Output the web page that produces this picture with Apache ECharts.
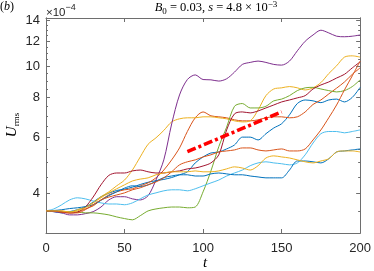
<!DOCTYPE html>
<html><head><meta charset="utf-8">
<script src="https://cdn.jsdelivr.net/npm/echarts@6/dist/echarts.min.js"></script>
<style>html,body{margin:0;padding:0;background:#fff}#c{width:374px;height:271px}</style>
</head><body><div id="c"></div>
<script>
// time samples
const t = [0,5,10,15,20,25,30,35,40,45,50,55,60,65,70,75,80,85,90,95,100,105,110,115,120,125,130,135,140,145,150,155,160,165,170,175,180,185,190,195,200];
// U_rms in units of 1e-4
const blueA   = [3.52,3.50,3.47,3.50,3.55,3.62,3.75,3.90,4.00,4.08,4.12,4.18,4.26,4.33,4.38,4.42,4.48,4.57,4.67,4.98,5.20,5.35,5.39,5.51,5.67,6.00,6.00,5.88,6.15,6.41,6.61,7.05,7.65,7.85,7.80,7.70,7.85,7.90,7.74,8.00,8.60];
const orangeA = [3.52,3.52,3.49,3.47,3.49,3.57,3.65,3.81,3.95,4.04,4.10,4.13,4.22,4.31,4.47,4.73,5.09,5.55,6.25,6.90,7.20,7.00,6.95,6.90,6.80,6.75,6.75,6.80,6.90,6.95,6.95,6.90,6.95,7.20,7.60,7.85,8.20,8.55,8.94,9.45,9.90];
const yellowA = [3.52,3.52,3.52,3.49,3.55,3.62,3.73,3.90,4.04,4.22,4.40,4.73,5.20,5.70,5.97,6.30,6.70,6.85,6.90,6.90,6.95,6.95,6.90,6.85,6.75,6.70,6.75,7.30,8.10,8.50,8.57,8.65,8.57,8.44,8.57,8.90,9.50,10.05,10.70,10.80,10.70];
const purple  = [3.52,3.50,3.47,3.42,3.42,3.45,3.50,3.62,3.81,3.90,3.90,3.84,3.81,3.93,4.40,5.09,6.60,8.14,9.10,9.41,9.10,9.08,9.00,9.15,9.60,10.15,10.30,10.40,10.30,10.15,10.10,10.40,11.20,12.00,12.56,13.00,12.75,12.45,12.40,12.45,12.56];
const green   = [3.52,3.52,3.49,3.49,3.49,3.47,3.47,3.45,3.42,3.37,3.33,3.30,3.40,3.52,3.57,3.60,3.62,3.62,3.60,3.62,4.04,4.70,5.60,6.45,7.50,7.65,7.41,7.41,7.50,7.80,7.90,8.10,8.40,8.57,8.60,8.50,8.40,8.32,8.40,8.65,9.08];
const lightBlue = [3.52,3.57,3.68,3.81,3.87,3.84,3.78,3.73,3.70,3.70,3.68,3.73,3.84,3.95,4.01,4.07,4.10,4.10,4.07,4.13,4.22,4.31,4.40,4.53,4.63,4.73,4.88,4.98,5.02,4.98,4.95,4.91,4.98,5.28,5.75,6.15,6.25,6.25,6.19,6.25,6.32];
const darkRed = [3.52,3.52,3.49,3.47,3.49,3.62,3.89,4.25,4.55,4.63,4.63,4.70,4.73,4.67,4.63,4.63,4.67,4.70,4.77,4.80,4.87,4.98,5.28,6.32,7.10,7.20,7.15,7.25,7.41,7.57,7.74,7.85,7.97,8.10,8.50,8.75,8.94,9.20,9.45,9.90,10.34];
const blueB   = [3.52,3.53,3.55,3.58,3.60,3.63,3.68,3.80,3.93,4.04,4.15,4.22,4.20,4.25,4.36,4.48,4.53,4.57,4.57,4.53,4.53,4.60,4.63,4.60,4.57,4.57,4.53,4.50,4.47,4.47,4.47,4.73,5.05,5.05,5.02,4.98,5.13,5.39,5.43,5.47,5.51];
const orangeB = [3.52,3.52,3.49,3.47,3.47,3.55,3.68,3.81,3.89,3.95,4.01,4.10,4.16,4.25,4.34,4.47,4.67,4.91,5.02,5.09,5.20,5.28,5.39,5.43,5.47,5.55,5.55,5.47,5.43,5.47,5.51,5.43,5.43,5.51,5.88,6.32,6.90,7.57,8.44,9.35,10.40];
const yellowB = [3.52,3.52,3.52,3.49,3.52,3.60,3.73,3.87,4.01,4.13,4.25,4.37,4.43,4.47,4.57,4.63,4.67,4.67,4.67,4.70,4.67,4.67,4.70,4.77,4.84,4.80,4.73,4.88,5.16,5.24,5.20,5.16,5.09,5.02,4.98,5.05,5.13,5.39,5.43,5.43,5.39];
// growth-rate guide line
const fitT = [90,150];
const fitU = [5.4,7.2];
// ticks
const xTicks = [0,50,100,150,200];
const yTicks = [4,6,8,10,12,14];
const yMinor = [3.5,4.5,5,5.5,6.5,7,7.5,8.5,9,9.5,10.5,11,11.5,12.5,13,13.5];

const runs = [
  ['blueA', blueA, '#0072BD'],
  ['orangeA', orangeA, '#D95319'],
  ['yellowA', yellowA, '#EDB120'],
  ['purple', purple, '#7E2F8E'],
  ['green', green, '#77AC30'],
  ['lightBlue', lightBlue, '#4DBEEE'],
  ['darkRed', darkRed, '#A2142F'],
  ['blueB', blueB, '#0072BD'],
  ['orangeB', orangeB, '#D95319'],
  ['yellowB', yellowB, '#EDB120']
];

const axisCol = '#6e6e6e';
const labCol = '#262626';
const sans = 'Liberation Sans';
const serif = 'Liberation Serif';

function yAx(pos, vals, len, labels){
  return {
    type:'log', logBase:10, min:3, max:14.2, position:pos,
    axisLine:{show:true, lineStyle:{color:axisCol, width:1}},
    axisTick:{show:true, inside:true, length:len, customValues:vals, lineStyle:{color:axisCol, width:1}},
    axisLabel:{show:labels, customValues:vals, color:labCol, fontFamily:sans, fontSize:13, margin:6, formatter:v=>String(Math.round(v))},
    splitLine:{show:false}, minorTick:{show:false}, minorSplitLine:{show:false}
  };
}
function xAx(pos, labels){
  return {
    type:'value', min:0, max:200, interval:50, position:pos,
    axisLine:{show:true, onZero:false, lineStyle:{color:axisCol, width:1}},
    axisTick:{show:true, inside:true, length:4, lineStyle:{color:axisCol, width:1}},
    axisLabel:{show:labels, color:labCol, fontFamily:sans, fontSize:13, margin:9},
    splitLine:{show:false}
  };
}

const series = runs.map(r => ({
  name:r[0], type:'line', xAxisIndex:0, yAxisIndex:0,
  data:t.map((tt,i)=>[tt, r[1][i]]),
  showSymbol:false, symbol:'none', smooth:0.3,
  lineStyle:{color:r[2], width:1}, itemStyle:{color:r[2]}, silent:true
}));
series.push({
  name:'fit', type:'line', xAxisIndex:0, yAxisIndex:0,
  data:fitT.map((tt,i)=>[tt, fitU[i]]),
  showSymbol:false, symbol:'none',
  lineStyle:{color:'#FF0000', width:3.6, type:[9,3,3,3], cap:'butt'}, z:5, silent:true
});

const chart = echarts.init(document.getElementById('c'), null, {renderer:'canvas'});
chart.setOption({
  animation:false,
  backgroundColor:'#fff',
  grid:{left:46, right:10, top:18, bottom:38, containLabel:false},
  xAxis:[xAx('bottom', true), xAx('top', false)],
  yAxis:[yAx('left', yTicks, 4, true), yAx('left', yMinor, 2, false), yAx('right', yTicks, 4, false), yAx('right', yMinor, 2, false)],
  series:series,
  graphic:[
    {type:'text', x:0, y:1, style:{text:'({i|b})', fontFamily:serif, fontSize:12, fill:'#000',
      rich:{i:{fontFamily:serif, fontSize:12, fontStyle:'italic'}}}},
    {type:'text', x:46, y:3, style:{text:'{n|×10}{p|−4}', fill:labCol,
      rich:{n:{fontFamily:sans, fontSize:11.5, lineHeight:16, verticalAlign:'bottom'}, p:{fontFamily:sans, fontSize:9, lineHeight:10, verticalAlign:'top'}}}},
    {type:'text', x:216, y:0, style:{text:'{i|B}{s|0}{n| = 0.03, }{i|s}{n| = 4.8 × 10}{p|−3}', align:'center', fill:'#000',
      rich:{
        n:{fontFamily:serif, fontSize:12.5, lineHeight:16, verticalAlign:'middle'},
        i:{fontFamily:serif, fontSize:12.5, fontStyle:'italic', lineHeight:16, verticalAlign:'middle'},
        s:{fontFamily:serif, fontSize:9, lineHeight:11, verticalAlign:'bottom'},
        p:{fontFamily:serif, fontSize:9, lineHeight:11, verticalAlign:'top'}
      }}},
    {type:'text', x:12, y:125, rotation:Math.PI/2, style:{text:'{i|U}{s|rms}', align:'center', verticalAlign:'middle', fill:'#000',
      rich:{
        i:{fontFamily:serif, fontSize:15, fontStyle:'italic', lineHeight:18, verticalAlign:'middle'},
        s:{fontFamily:serif, fontSize:9, lineHeight:11, verticalAlign:'bottom'}
      }}},
    {type:'text', x:205, y:263, style:{text:'t', align:'center', verticalAlign:'middle', fontFamily:serif, fontSize:15, fontStyle:'italic', fill:'#000'}}
  ]
});
</script></body></html>
